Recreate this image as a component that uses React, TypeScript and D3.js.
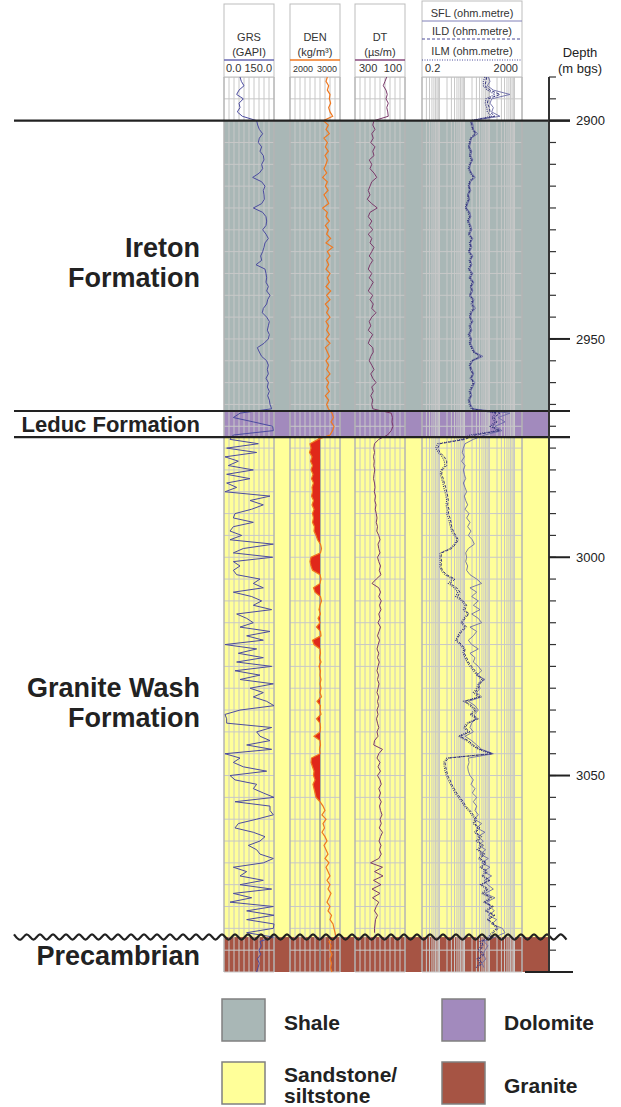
import React from "react";
import * as d3 from "d3";

// one sample per metre, 2890 - 3095 m bgs
const depthTop = 2890;
const depthBase = 3095;
const depths = d3.range(depthTop, depthBase + 1);

// gamma ray, GAPI
const grs = [
  48, 52, 60, 45, 38, 58, 45, 48, 40, 55,
  98, 101, 106, 116, 106, 103, 113, 108, 118, 120,
  113, 116, 106, 86, 113, 123, 118, 120, 121, 113,
  88, 116, 126, 128, 126, 116, 126, 133, 123, 120,
  116, 110, 113, 96, 123, 126, 128, 126, 133, 128,
  138, 131, 128, 118, 115, 128, 136, 133, 130, 136,
  133, 120, 100, 106, 113, 128, 133, 130, 133, 126,
  133, 130, 136, 131, 136, 138, 143, 48, 28, 88,
  146, 148, 28, 18, 103, 8, 98, 3, 43, 13,
  88, 8, 78, 8, 38, 3, 138, 78, 118, 83,
  33, 28, 88, 28, 18, 53, 18, 148, 58, 28,
  146, 28, 48, 28, 38, 108, 88, 118, 28, 83,
  113, 88, 143, 38, 68, 88, 48, 138, 68, 118,
  3, 98, 43, 118, 38, 143, 33, 108, 48, 148,
  78, 118, 88, 128, 150, 48, 3, 8, 8, 143,
  98, 108, 138, 68, 143, 3, 48, 28, 58, 128,
  18, 33, 98, 88, 118, 150, 33, 138, 138, 148,
  98, 43, 33, 88, 123, 108, 73, 98, 108, 148,
  118, 28, 68, 48, 118, 48, 143, 28, 83, 18,
  148, 68, 150, 68, 150, 148, 68, 148, 108, 112,
  105, 110, 100, 106, 102, 98,
];

// bulk density, kg/m3
const den = [
  2747, 2720, 2773, 2747, 2800, 2787, 2813, 2773, 2800, 2853,
  2667, 2767, 2720, 2787, 2680, 2747, 2707, 2767, 2700, 2747,
  2720, 2680, 2733, 2653, 2747, 2707, 2760, 2680, 2733, 2773,
  2653, 2747, 2720, 2787, 2707, 2767, 2733, 2813, 2720, 2853,
  2747, 2800, 2733, 2773, 2720, 2800, 2747, 2787, 2720, 2813,
  2733, 2800, 2707, 2773, 2733, 2800, 2720, 2773, 2733, 2787,
  2720, 2800, 2707, 2747, 2787, 2720, 2773, 2733, 2800, 2720,
  2773, 2733, 2787, 2707, 2773, 2733, 2767, 2840, 2870, 2820,
  2880, 2850, 2800, 2560, 2400, 2420, 2390, 2440, 2410, 2450,
  2420, 2460, 2430, 2470, 2440, 2450, 2430, 2470, 2440, 2480,
  2450, 2470, 2450, 2490, 2480, 2520, 2550, 2610, 2630, 2610,
  2420, 2400, 2420, 2450, 2600, 2620, 2600, 2470, 2500, 2610,
  2630, 2600, 2580, 2610, 2560, 2600, 2530, 2610, 2620, 2450,
  2480, 2600, 2610, 2590, 2620, 2580, 2610, 2600, 2620, 2600,
  2620, 2600, 2630, 2540, 2610, 2600, 2620, 2530, 2600, 2610,
  2600, 2480, 2600, 2610, 2590, 2600, 2430, 2420, 2450, 2480,
  2470, 2500, 2460, 2480, 2500, 2520, 2600, 2660, 2700, 2640,
  2720, 2660, 2690, 2640, 2700, 2740, 2680, 2720, 2760, 2700,
  2780, 2720, 2760, 2800, 2740, 2800, 2760, 2820, 2780, 2740,
  2800, 2760, 2830, 2800, 2860, 2880, 2900, 2920, 2780, 2820,
  2800, 2840, 2800, 2830, 2810, 2840,
];
const denCutoff = 2600;

// sonic, us/m
const dt = [
  173, 180, 187, 176, 171, 176, 167, 173, 169, 167,
  224, 229, 220, 233, 227, 237, 220, 229, 224, 243,
  233, 240, 224, 213, 233, 240, 247, 240, 251, 233,
  211, 240, 247, 233, 243, 229, 247, 233, 240, 224,
  233, 243, 229, 240, 247, 233, 243, 227, 237, 247,
  229, 240, 227, 233, 216, 233, 243, 237, 247, 229,
  240, 247, 229, 227, 237, 243, 233, 224, 237, 229,
  216, 233, 227, 237, 229, 233, 229, 155, 150, 152,
  148, 155, 170, 205, 222, 225, 222, 226, 223, 225,
  221, 224, 226, 222, 220, 223, 218, 221, 216, 219,
  215, 212, 215, 210, 213, 205, 200, 208, 205, 200,
  210, 205, 198, 203, 196, 215, 232, 205, 198, 205,
  195, 202, 196, 205, 200, 208, 198, 204, 210, 202,
  207, 212, 205, 210, 203, 208, 212, 206, 210, 204,
  208, 212, 205, 210, 206, 212, 208, 214, 210, 205,
  212, 208, 222, 225, 190, 205, 212, 200, 208, 198,
  210, 200, 195, 205, 198, 204, 195, 202, 198, 192,
  200, 195, 203, 190, 198, 204, 196, 202, 195, 205,
  238, 190, 222, 188, 226, 196, 232, 200, 230, 205,
  215, 222, 210, 218, 220, 222, 222, null, null, null,
  null, null, null, null, null, null,
];

// resistivity, ohm.metre
const sfl = [
  90, 105, 82, 143, 662, 123, 105, 143, 123, 263,
  19.5, 22, 23, 34, 19, 17.5, 16, 19.5, 18, 21.5,
  17.5, 16, 19.5, 27, 17.5, 16, 17.8, 14.5, 16.2, 13.5,
  12, 16.5, 18, 14.8, 17.8, 19.8, 16.2, 21.5, 17.5, 19.8,
  16.2, 21.8, 17.5, 19.8, 16.2, 21.5, 17.8, 23.5, 19.5, 21.5,
  17.8, 23.8, 21.5, 27.5, 19.5, 17.8, 21.8, 17.5, 19.8, 16.5,
  19.5, 17.8, 21.5, 26, 55, 21.8, 17.5, 19.8, 23.5, 19.5,
  26, 21.5, 17.8, 19.5, 16.2, 17.8, 22, 662, 219, 418,
  166, 316, 66, 22.6, 10.5, 9.0, 8.2, 9.9, 7.7, 10.5,
  9.0, 9.9, 11.2, 9.0, 10.5, 12.2, 9.9, 11.2, 13.4, 10.5,
  15.2, 12.2, 16.6, 13.4, 18.2, 14.3, 20.6, 24.8, 14.3, 11.2,
  12.2, 11.2, 13.4, 12.2, 16.6, 30.8, 48.7, 16.6, 30.8, 19.4,
  35.8, 22.6, 41.8, 19.4, 35.8, 48.7, 16.6, 30.8, 22.6, 14.3,
  19.4, 35.8, 16.6, 26.4, 22.6, 35.8, 48.7, 30.8, 66.2, 35.8,
  41.8, 30.8, 48.7, 14.3, 26.4, 35.8, 24.8, 26.4, 19.4, 16.6,
  22.6, 10.5, 19.4, 30.8, 48.7, 143, 14.3, 15.2, 13.4, 14.3,
  16.6, 22.6, 18.2, 26.4, 20.6, 30.8, 22.6, 30.8, 26.4, 35.8,
  24.8, 48.7, 30.8, 66.2, 33.7, 56.8, 38.1, 70.4, 41.8, 90,
  48.7, 105, 56.8, 122, 62.3, 84.7, 143, 66.2, 166, 77.2,
  105, 156, 90, 194, 122, 327, 418, 166, 60, 87,
  66, 55, 72, 50, 60, null,
];

const ild = [
  78, 72, 66, 105, 263, 90, 82, 99, 105, 166,
  18.2, 20.0, 21.9, 28.9, 18.2, 16.6, 15.1, 18.2, 16.6, 20.0,
  16.6, 15.1, 18.2, 24.0, 16.6, 15.1, 16.6, 13.8, 15.1, 12.6,
  11.4, 15.1, 16.6, 13.8, 16.6, 18.2, 15.1, 20.0, 16.6, 18.2,
  15.1, 20.0, 16.6, 18.2, 15.1, 20.0, 16.6, 21.9, 18.2, 20.0,
  16.6, 21.9, 20.0, 24.0, 18.2, 16.6, 20.0, 16.6, 18.2, 15.1,
  18.2, 16.6, 20.0, 24.0, 45.7, 20.0, 16.6, 18.2, 21.9, 18.2,
  24.0, 20.0, 16.6, 18.2, 15.1, 16.6, 20.0, 263, 151, 200,
  126, 263, 26, 10.5, 1.05, 0.85, 1.05, 1.56, 1.94, 1.94,
  1.30, 1.22, 1.42, 1.56, 1.77, 1.94, 2.13, 2.26, 2.13, 2.40,
  2.26, 2.64, 2.89, 3.08, 3.58, 4.45, 5.68, 4.45, 3.08, 1.22,
  1.15, 1.22, 1.15, 1.30, 1.94, 4.18, 2.64, 4.88, 6.62, 5.35,
  9.0, 12.2, 10.5, 15.2, 10.5, 8.21, 12.2, 7.72, 6.04, 4.88,
  7.72, 10.5, 9.87, 12.2, 14.3, 19.4, 26.4, 35.8, 56.8, 41.8,
  35.8, 26.4, 41.8, 10.5, 19.4, 30.8, 19.4, 35.8, 14.3, 10.5,
  16.6, 6.62, 14.3, 22.6, 41.8, 130, 2.26, 1.66, 1.77, 1.94,
  2.13, 2.64, 3.08, 3.93, 4.88, 6.62, 9.0, 11.2, 16.6, 22.6,
  30.8, 24.8, 41.8, 28.0, 48.7, 33.7, 56.8, 35.8, 66.2, 41.8,
  77.2, 48.7, 84.7, 56.8, 105, 48.7, 90, 56.8, 122, 66.2,
  143, 77.2, 166, 90, 156, 226, 143, 105, 50, 55,
  42, 60, 38, 50, 35, null,
];

const ilm = [
  66, 57, 57, 82, 166, 72, 68, 78, 82, 123,
  17, 18.8, 20.5, 26.5, 17.2, 15.5, 14.2, 17, 15.6, 18.6,
  15.5, 14.2, 17, 22, 15.6, 14.2, 15.5, 13, 14.2, 11.8,
  10.8, 14.2, 15.5, 13, 15.5, 17, 14.2, 18.8, 15.5, 17,
  14.2, 18.6, 15.5, 17, 14.2, 18.6, 15.5, 20.5, 17, 18.6,
  15.5, 20.5, 18.6, 22, 17, 15.5, 18.6, 15.5, 17, 14.2,
  17, 15.5, 18.6, 22, 40, 18.6, 15.5, 17, 20.5, 17,
  22, 18.6, 15.5, 17, 14.2, 15.5, 18.6, 182, 126, 166,
  105, 219, 16.6, 7.72, 0.85, 0.70, 0.90, 1.30, 1.56, 1.66,
  1.15, 1.08, 1.22, 1.38, 1.47, 1.66, 1.82, 1.94, 1.82, 2.06,
  1.94, 2.26, 2.48, 2.72, 3.08, 3.93, 5.0, 3.93, 2.64, 1.05,
  1.02, 1.08, 1.02, 1.15, 1.66, 3.27, 2.26, 3.93, 5.35, 4.45,
  7.72, 10.5, 9.0, 13.4, 9.28, 7.26, 10.5, 6.83, 5.35, 4.45,
  6.62, 9.28, 8.73, 10.5, 12.6, 16.6, 22.6, 30.8, 48.7, 35.8,
  30.8, 22.6, 35.8, 9.28, 16.6, 26.4, 16.6, 30.8, 12.2, 9.28,
  14.3, 5.68, 12.2, 19.4, 35.8, 115, 1.94, 1.47, 1.56, 1.66,
  1.88, 2.26, 2.72, 3.48, 4.18, 5.68, 7.72, 9.87, 14.3, 19.4,
  26.4, 21.9, 35.8, 24.8, 41.8, 29.8, 48.7, 31.7, 56.8, 35.8,
  66.2, 43.1, 74.8, 48.7, 90, 43.1, 77.2, 48.7, 105, 56.8,
  122, 66.2, 143, 79.6, 138, 194, 122, 90, 42, 46,
  35, 50, 32, 42, 29, null,
];

// formation tops and bases, m bgs
const formations = [
  { name: ["Ireton", "Formation"], top: 2900, base: 2966.5, lith: "Shale" },
  { name: ["Leduc Formation"], top: 2966.5, base: 2972.5, lith: "Dolomite" },
  { name: ["Granite Wash", "Formation"], top: 2972.5, base: 3087, lith: "Sandstone" },
  { name: ["Precambrian"], top: 3087, base: 3095, lith: "Granite" },
];

const lithColor: Record<string, string> = {
  Shale: "#a9b7b6",
  Dolomite: "#a28abd",
  Sandstone: "#ffff99",
  Granite: "#a65444",
};

const legendItems = [
  { lith: "Shale", label: ["Shale"] },
  { lith: "Dolomite", label: ["Dolomite"] },
  { lith: "Sandstone", label: ["Sandstone/", "siltstone"] },
  { lith: "Granite", label: ["Granite"] },
];

const FONT = "'Liberation Sans', Arial, Helvetica, sans-serif";
const GRID = "#c8c8c8";

export default function App() {
  const y = d3.scaleLinear().domain([depthTop, depthBase]).range([77, 972]);
  const xGR = d3.scaleLinear().domain([0, 150]).range([224, 274]);
  const xDEN = d3.scaleLinear().domain([2000, 3000]).range([290, 340]);
  const xDT = d3.scaleLinear().domain([300, 100]).range([355, 405]);
  const xRES = d3.scaleLog().domain([0.2, 2000]).range([422, 522]);

  const tracks = [
    { x0: 224, x1: 274, grid: d3.range(0, 151, 15).map((v) => xGR(v)) },
    { x0: 290, x1: 340, grid: d3.range(2000, 3001, 100).map((v) => xDEN(v)) },
    { x0: 355, x1: 405, grid: d3.range(100, 301, 20).map((v) => xDT(v)) },
    { x0: 422, x1: 522, grid: [] as number[] },
  ];
  for (let e = -1; e <= 3; e++) {
    for (let m = 1; m <= 9; m++) {
      const v = m * Math.pow(10, e);
      if (v >= 0.1999 && v <= 2000.01) tracks[3].grid.push(xRES(v));
    }
  }
  const hLines = d3.range(depthTop, depthBase + 1, 5);

  const curve = (vals: (number | null)[], xs: (v: number) => number) =>
    d3
      .line<number | null>()
      .defined((v) => v != null)
      .x((v) => xs(v as number))
      .y((_, i) => y(depths[i]))(vals) || "";

  const denFill =
    d3
      .area<number>()
      .y((_, i) => y(depths[i]))
      .x0((v) => xDEN(Math.min(v, denCutoff)))
      .x1(xDEN(denCutoff))(den) || "";

  const xL = 14;
  const xR = 570;
  const waveY = y(formations[3].top);
  const wavePts = d3.range(xL, xR + 1, 6.5).map((x, i) => [x, waveY + (i % 2 ? 2.6 : -2.6)] as [number, number]);
  const wave = d3.line().curve(d3.curveNatural)(wavePts) || "";

  const labelDepth = (f: (typeof formations)[number]) =>
    f.name[0] === "Granite Wash" ? 3034 : (f.top + f.base) / 2;

  const hdrTop = 4;
  const hdrBot = 77;

  return (
    <svg
      width={621}
      height={1107}
      viewBox="0 0 621 1107"
      style={{ position: "absolute", left: 0, top: 0, background: "#fff" }}
      fontFamily={FONT}
    >
      <rect x={0} y={0} width={621} height={1107} fill="#fff" />

      {/* lithology fills */}
      {formations.map((f, i) => (
        <rect
          key={i}
          x={224}
          y={y(f.top)}
          width={548 - 224}
          height={y(f.base) - y(f.top)}
          fill={lithColor[f.lith]}
        />
      ))}

      {/* track grids */}
      {tracks.map((t, i) => (
        <g key={i}>
          {t.grid.map((gx, j) => (
            <line key={j} x1={gx} x2={gx} y1={hdrBot} y2={y(depthBase)} stroke={GRID} strokeWidth={1} />
          ))}
          {hLines.map((d) => (
            <line key={d} x1={t.x0} x2={t.x1} y1={y(d)} y2={y(d)} stroke={GRID} strokeWidth={1} />
          ))}
          <line x1={t.x0} x2={t.x0} y1={hdrBot} y2={y(depthBase)} stroke="#aaa" />
          <line x1={t.x1} x2={t.x1} y1={hdrBot} y2={y(depthBase)} stroke="#aaa" />
        </g>
      ))}
      <line
        x1={xDEN(denCutoff)}
        x2={xDEN(denCutoff)}
        y1={y(formations[2].top)}
        y2={y(depthBase)}
        stroke="#8c8c8c"
        strokeWidth={1.2}
      />

      {/* headers */}
      {tracks.slice(0, 3).map((t, i) => (
        <rect key={i} x={t.x0} y={hdrTop} width={t.x1 - t.x0} height={hdrBot - hdrTop} fill="#fff" stroke="#bdbdbd" />
      ))}
      <rect x={422} y={1} width={100} height={hdrBot - 1} fill="#fff" stroke="#bdbdbd" />
      <g fill="#333" fontSize={11} textAnchor="middle">
        <text x={249} y={41}>GRS</text>
        <text x={249} y={56}>(GAPI)</text>
        <text x={315} y={41}>DEN</text>
        <text x={315} y={56}>(kg/m³)</text>
        <text x={380} y={41}>DT</text>
        <text x={380} y={56}>(µs/m)</text>
        <text x={472} y={17}>SFL (ohm.metre)</text>
        <text x={472} y={35}>ILD (ohm.metre)</text>
        <text x={472} y={55}>ILM (ohm.metre)</text>
      </g>
      <line x1={224} x2={274} y1={60} y2={60} stroke="#6a6ab5" strokeWidth={1.3} />
      <line x1={290} x2={340} y1={60} y2={60} stroke="#f07820" strokeWidth={1.5} />
      <line x1={355} x2={405} y1={60} y2={60} stroke="#8a4a7e" strokeWidth={1.3} />
      <line x1={422} x2={522} y1={21} y2={21} stroke="#8080b8" strokeWidth={1} />
      <line x1={422} x2={522} y1={39} y2={39} stroke="#4a4a99" strokeWidth={1} strokeDasharray="3,2" />
      <line x1={422} x2={522} y1={60} y2={60} stroke="#4a4a99" strokeWidth={1.1} strokeDasharray="1,1.5" />
      <g fill="#333" fontSize={11}>
        <text x={226} y={72}>0.0</text>
        <text x={272} y={72} textAnchor="end">150.0</text>
        <text x={293} y={72} fontSize={9}>2000</text>
        <text x={337} y={72} fontSize={9} textAnchor="end">3000</text>
        <text x={359} y={72}>300</text>
        <text x={402} y={72} textAnchor="end">100</text>
        <text x={425} y={72}>0.2</text>
        <text x={518} y={72} textAnchor="end">2000</text>
      </g>

      {/* log curves */}
      <path d={denFill} fill="#e0281a" />
      <path d={curve(grs, xGR)} fill="none" stroke="#4b4ba0" strokeWidth={1} />
      <path d={curve(den, xDEN)} fill="none" stroke="#f07820" strokeWidth={1.2} />
      <path d={curve(dt, xDT)} fill="none" stroke="#7b3a6b" strokeWidth={1} />
      <path d={curve(sfl, xRES)} fill="none" stroke="#6c6ca8" strokeWidth={0.9} />
      <path d={curve(ild, xRES)} fill="none" stroke="#35357f" strokeWidth={1} strokeDasharray="3,1.5" />
      <path d={curve(ilm, xRES)} fill="none" stroke="#35357f" strokeWidth={1.1} strokeDasharray="1,1.2" />

      {/* formation boundaries */}
      {formations.slice(0, 3).map((f, i) => (
        <line key={i} x1={xL} x2={xR} y1={y(f.top)} y2={y(f.top)} stroke="#222" strokeWidth={2.2} />
      ))}
      <path d={wave} fill="none" stroke="#222" strokeWidth={2.2} />

      {/* formation names */}
      <g fill="#222" fontWeight="bold" textAnchor="end">
        {formations.map((f, i) => {
          const yc = y(labelDepth(f));
          const size = f.lith === "Dolomite" ? 22 : 27;
          if (f.name.length === 2) {
            return (
              <text key={i} x={200} fontSize={size}>
                <tspan x={200} y={yc - 9}>{f.name[0]}</tspan>
                <tspan x={200} y={yc + 21}>{f.name[1]}</tspan>
              </text>
            );
          }
          return (
            <text key={i} x={200} y={yc + (size === 22 ? 8 : 10)} fontSize={size}>
              {f.name[0]}
            </text>
          );
        })}
      </g>

      {/* depth axis */}
      <line x1={549} x2={549} y1={y(depthTop)} y2={y(depthBase)} stroke="#333" strokeWidth={2} />
      {hLines.map((d) => (
        <line key={d} x1={549} x2={556} y1={y(d)} y2={y(d)} stroke="#333" strokeWidth={1.2} />
      ))}
      {d3.range(2900, 3051, 50).map((d) => (
        <g key={d}>
          <line x1={549} x2={570} y1={y(d)} y2={y(d)} stroke="#222" strokeWidth={2} />
          <text x={576} y={y(d)} dy="0.36em" fontSize={13} fill="#222">
            {d}
          </text>
        </g>
      ))}
      <line x1={525} x2={573} y1={y(depthBase)} y2={y(depthBase)} stroke="#222" strokeWidth={2} />
      <text x={580} y={57} fontSize={13} fill="#222" textAnchor="middle">Depth</text>
      <text x={580} y={73} fontSize={13} fill="#222" textAnchor="middle">(m bgs)</text>

      {/* legend */}
      {legendItems.map((it, i) => {
        const bx = i % 2 === 0 ? 222 : 442;
        const by = i < 2 ? 999 : 1062;
        return (
          <g key={it.lith}>
            <rect x={bx} y={by} width={43} height={42} fill={lithColor[it.lith]} stroke="#808080" strokeWidth={1.5} />
            <g fill="#222" fontWeight="bold" fontSize={21}>
              {it.label.length === 1 ? (
                <text x={bx + 62} y={by + 31}>{it.label[0]}</text>
              ) : (
                <text>
                  <tspan x={bx + 62} y={by + 20}>{it.label[0]}</tspan>
                  <tspan x={bx + 62} y={by + 41}>{it.label[1]}</tspan>
                </text>
              )}
            </g>
          </g>
        );
      })}
    </svg>
  );
}
